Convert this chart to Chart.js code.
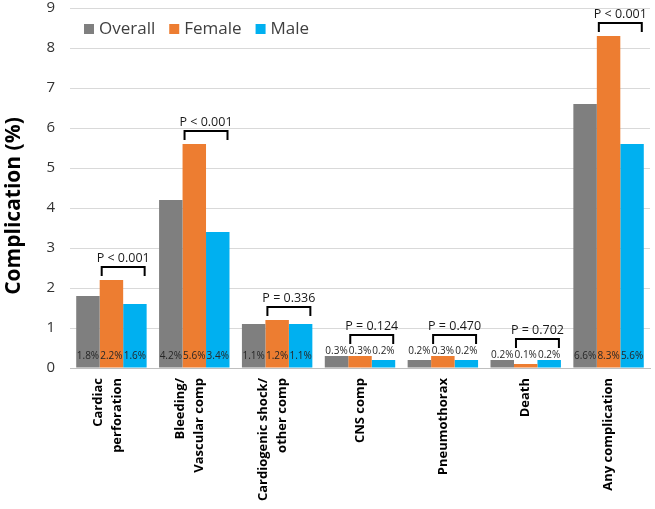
<!DOCTYPE html>
<html>
<head>
<meta charset="utf-8">
<script src="https://cdn.jsdelivr.net/npm/chart.js@4.4.0/dist/chart.umd.min.js"></script>
<style>
  html, body { margin: 0; padding: 0; background: #fff; }
  #wrap { width: 655px; height: 509px; }
</style>
</head>
<body>
<div id="wrap"><canvas id="c"></canvas></div>
<script>
const categories = [['Cardiac', 'perforation'], ['Bleeding/', 'Vascular comp'], ['Cardiogenic shock/', 'other comp'], ['CNS comp'], ['Pneumothorax'], ['Death'], ['Any complication']];
const overall = [1.8, 4.2, 1.1, 0.3, 0.2, 0.2, 6.6];
const female = [2.2, 5.6, 1.2, 0.3, 0.3, 0.1, 8.3];
const male = [1.6, 3.4, 1.1, 0.2, 0.2, 0.2, 5.6];
const pLabels = ['P < 0.001', 'P < 0.001', 'P = 0.336', 'P = 0.124', 'P = 0.470', 'P = 0.702', 'P < 0.001'];
const yMax = 9;
const yTitle = 'Complication (%)';

const FONT = '"Open Sans", "Noto Sans", sans-serif';

// value labels, p-value brackets, category labels, y title and the in-plot legend
const annotate = {
    id: 'annotate',
    afterDatasetsDraw(chart) {
        const ctx = chart.ctx;
        const xs = chart.scales.x;
        ctx.save();
        categories.forEach((lines, i) => {
            const bars = [0, 1, 2].map(d => chart.getDatasetMeta(d).data[i]);
            const vals = chart.data.datasets.map(ds => ds.data[i]);
            const small = Math.max(...vals) < 0.5;
            const maxTop = Math.min(...bars.map(b => b.y));

            ctx.font = '10px ' + FONT;
            ctx.fillStyle = '#262626';
            ctx.textAlign = 'center';
            ctx.textBaseline = 'middle';
            bars.forEach((b, d) => {
                const y = small ? maxTop - 5 : b.base - 11;
                ctx.fillText(vals[d].toFixed(1) + '%', b.x, y);
            });

            const f = bars[1], m = bars[2];
            const x1 = f.x - f.width / 2 + 2;
            const x2 = m.x + m.width / 2 - 2;
            const bottom = small ? maxTop - 12 : maxTop - 4;
            const top = bottom - 9;
            ctx.strokeStyle = '#000';
            ctx.lineWidth = 2;
            ctx.beginPath();
            ctx.moveTo(x1, bottom);
            ctx.lineTo(x1, top);
            ctx.lineTo(x2, top);
            ctx.lineTo(x2, bottom);
            ctx.stroke();
            ctx.font = '12.5px ' + FONT;
            ctx.fillStyle = '#1a1a1a';
            ctx.fillText(pLabels[i], (x1 + x2) / 2, top - 9);

            // rotated category label
            const cx = xs.getPixelForTick(i) - (lines.length > 1 ? 4 : 0);
            ctx.save();
            ctx.translate(cx, xs.top + 10);
            ctx.rotate(-Math.PI / 2);
            ctx.font = 'bold 13px ' + FONT;
            ctx.fillStyle = '#000';
            ctx.textAlign = 'right';
            lines.forEach((ln, j) => ctx.fillText(ln, 0, (j - (lines.length - 1) / 2) * 19));
            ctx.restore();
        });

        // y axis title
        ctx.save();
        ctx.translate(14, 206);
        ctx.rotate(-Math.PI / 2);
        ctx.font = 'bold 21px ' + FONT;
        ctx.fillStyle = '#000';
        ctx.textAlign = 'center';
        ctx.textBaseline = 'middle';
        ctx.fillText(yTitle, 0, 0);
        ctx.restore();

        // legend
        let x = 84;
        ctx.font = '17px ' + FONT;
        ctx.textAlign = 'left';
        ctx.textBaseline = 'middle';
        chart.data.datasets.forEach(ds => {
            ctx.fillStyle = ds.backgroundColor;
            ctx.fillRect(x, 24, 10, 10);
            ctx.fillStyle = '#404040';
            ctx.fillText(ds.label, x + 15, 29);
            x += 15 + ctx.measureText(ds.label).width + 14;
        });
        ctx.restore();
    }
};

new Chart(document.getElementById('c'), {
    type: 'bar',
    data: {
        labels: categories,
        datasets: [
            { label: 'Overall', data: overall, backgroundColor: '#7f7f7f' },
            { label: 'Female', data: female, backgroundColor: '#ed7d31' },
            { label: 'Male', data: male, backgroundColor: '#00b0f0' }
        ]
    },
    options: {
        responsive: true,
        maintainAspectRatio: false,
        animation: false,
        layout: { padding: { top: 8, right: 5, left: 0, bottom: 0 } },
        datasets: { bar: { categoryPercentage: 0.85, barPercentage: 1.0 } },
        plugins: { legend: { display: false }, tooltip: { enabled: false } },
        scales: {
            x: {
                grid: { display: false },
                border: { display: true, color: '#bfbfbf', width: 1 },
                ticks: { display: false },
                afterFit: s => { s.height = 141; s.paddingLeft = 0; s.paddingRight = 0; }
            },
            y: {
                min: 0, max: yMax,
                grid: { color: '#d9d9d9', drawTicks: false },
                border: { display: false },
                ticks: { stepSize: 1, padding: 15, color: '#333', font: { family: FONT, size: 15 } },
                afterFit: s => { s.width = 70; s.paddingTop = 0; s.paddingBottom = 0; }
            }
        }
    },
    plugins: [annotate]
});
</script>
</body>
</html>
